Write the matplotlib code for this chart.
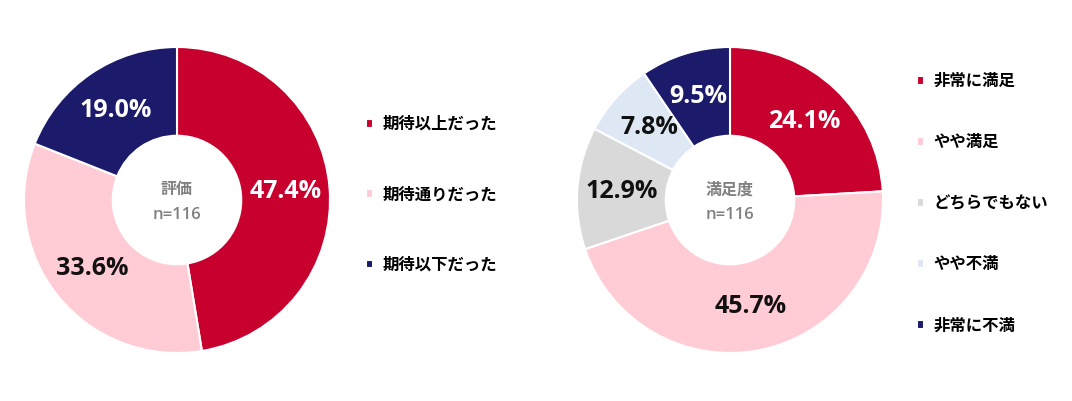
import matplotlib
matplotlib.use("Agg")
import matplotlib.pyplot as plt

plt.rcParams['font.family'] = ['Noto Sans CJK JP', 'DejaVu Sans']

# 評価
eval_labels = ['期待以上だった', '期待通りだった', '期待以下だった']
eval_values = [47.4, 33.6, 19.0]
eval_colors = ['#C8002E', '#FFCCD6', '#1B1A6B']
eval_text = ['white', '#111111', 'white']

# 満足度
sat_labels = ['非常に満足', 'やや満足', 'どちらでもない', 'やや不満', '非常に不満']
sat_values = [24.1, 45.7, 12.9, 7.8, 9.5]
sat_colors = ['#C8002E', '#FFCCD6', '#D9D9D9', '#DEE8F4', '#1B1A6B']
sat_text = ['white', '#111111', '#111111', '#111111', 'white']

W, H = 1072, 401
fig = plt.figure(figsize=(W / 100, H / 100), dpi=100)
num_font = ['Open Sans', 'DejaVu Sans']


def donut(cx, cy, r, values, colors, tcolors, title):
    ax = fig.add_axes([(cx - r) / W, (H - cy - r) / H, 2 * r / W, 2 * r / H])
    wedges, _, autotexts = ax.pie(values, colors=colors, startangle=90, counterclock=False,
                                  autopct='%.1f%%', pctdistance=0.71,
                                  wedgeprops=dict(width=0.58, edgecolor='white', linewidth=1.5))
    for t, c in zip(autotexts, tcolors):
        t.set_color(c)
        t.set_fontsize(18)
        t.set_fontweight('bold')
        t.set_family(num_font)
    ax.text(0, 0.07, title, ha='center', va='center', fontsize=11.5, color='#808080', fontweight='bold')
    ax.text(0, -0.1, 'n=116', ha='center', va='center', fontsize=12, color='#808080',
            fontweight='semibold', family=num_font)
    ax.set_xlim(-1, 1)
    ax.set_ylim(-1, 1)
    ax.set_aspect('equal')
    return wedges


w1 = donut(177, 200, 153, eval_values, eval_colors, eval_text, '評価')
w2 = donut(730, 200, 153, sat_values, sat_colors, sat_text, '満足度')

leg_kw = dict(frameon=False, handlelength=0.45, handleheight=0.45, handletextpad=0.55,
              prop=dict(size=11.8, weight='bold'), borderpad=0, borderaxespad=0)
fig.legend(w1, eval_labels, loc='upper left', bbox_to_anchor=(366 / W, 1 - 115 / H),
           labelspacing=3.2, **leg_kw)
fig.legend(w2, sat_labels, loc='upper left', bbox_to_anchor=(917 / W, 1 - 72 / H),
           labelspacing=2.63, **leg_kw)

fig.savefig('out.png', dpi=100)
